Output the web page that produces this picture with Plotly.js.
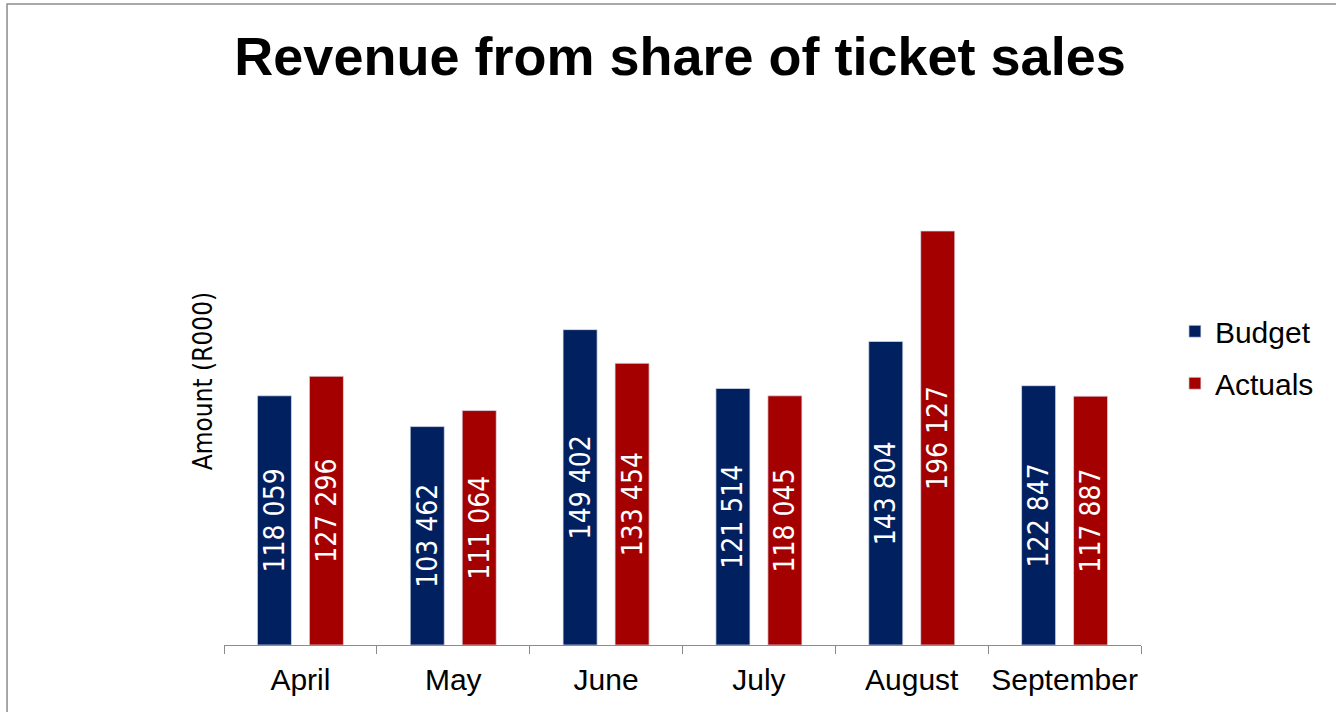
<!DOCTYPE html>
<html>
<head>
<meta charset="utf-8">
<script src="https://cdn.plot.ly/plotly-3.0.1.min.js"></script>
<style>html,body{margin:0;padding:0;background:#fff;}#chart{width:1336px;height:712px;}</style>
</head>
<body>
<div id="chart"></div>
<script>
const months = ["April", "May", "June", "July", "August", "September"];
const budget = [118059, 103462, 149402, 121514, 143804, 122847];
const actuals = [127296, 111064, 133454, 118045, 196127, 117887];
const seriesNames = ["Budget", "Actuals"];

const narrow = "Liberation Sans Narrow, DejaVu Sans Condensed, Arial Narrow, sans-serif";
const sans = "Liberation Sans, Arial, sans-serif";

function barTrace(name, values, color, group) {
  return {
    type: "bar",
    name: name,
    x: months,
    y: values,
    legendgroup: group,
    marker: {color: color, line: {color: "rgba(220,225,235,0.9)", width: 0.8}},
    texttemplate: "%{y:,}",
    textposition: "inside",
    insidetextanchor: "middle",
    textangle: -90,
    constraintext: "none",
    insidetextfont: {family: narrow, size: 28, color: "#ffffff"},
    hoverinfo: "skip"
  };
}

const data = [
  barTrace(seriesNames[0], budget, "#002060", "g1"),
  barTrace(seriesNames[1], actuals, "#A50000", "g2")
];

const layout = {
  width: 1336,
  height: 712,
  margin: {l: 224, r: 195, t: 117, b: 67},
  paper_bgcolor: "#ffffff",
  plot_bgcolor: "#ffffff",
  separators: ". ",
  barmode: "group",
  bargap: 0.32,
  bargroupgap: 0.345,
  showlegend: true,
  title: {
    text: "<b>Revenue from share of ticket sales</b>",
    font: {family: sans, size: 54, color: "#000000"},
    x: 0.509, xref: "container", xanchor: "center",
    y: 1 - 56 / 712, yref: "container", yanchor: "middle"
  },
  xaxis: {
    type: "category",
    showline: true,
    linecolor: "#8c8c8c",
    linewidth: 1,
    ticks: "outside",
    tickson: "boundaries",
    ticklen: 8,
    tickcolor: "#8c8c8c",
    tickangle: 0,
    ticklabelstandoff: 8,
    tickfont: {family: sans, size: 30, color: "#000000"},
    showgrid: false,
    zeroline: false,
    automargin: false
  },
  yaxis: {
    range: [0, 250130],
    showline: false,
    showticklabels: false,
    ticks: "",
    showgrid: false,
    zeroline: false,
    automargin: false,
    title: {text: "Amount (R000)", font: {family: narrow, size: 26, color: "#000000"}, standoff: 2}
  },
  legend: {
    x: 1.037, xanchor: "left",
    y: 0.545, yanchor: "middle",
    font: {family: sans, size: 30, color: "#000000"},
    tracegroupgap: 10,
    bgcolor: "rgba(0,0,0,0)"
  },
  shapes: [{
    type: "rect", xref: "paper", yref: "paper",
    x0: -0.2366, x1: 1.3, y0: -0.3, y1: 1.214,
    line: {color: "#8c8c8c", width: 1.5},
    fillcolor: "rgba(0,0,0,0)",
    layer: "below"
  }]
};

Plotly.newPlot("chart", data, layout, {displayModeBar: false, staticPlot: true});
</script>
</body>
</html>
